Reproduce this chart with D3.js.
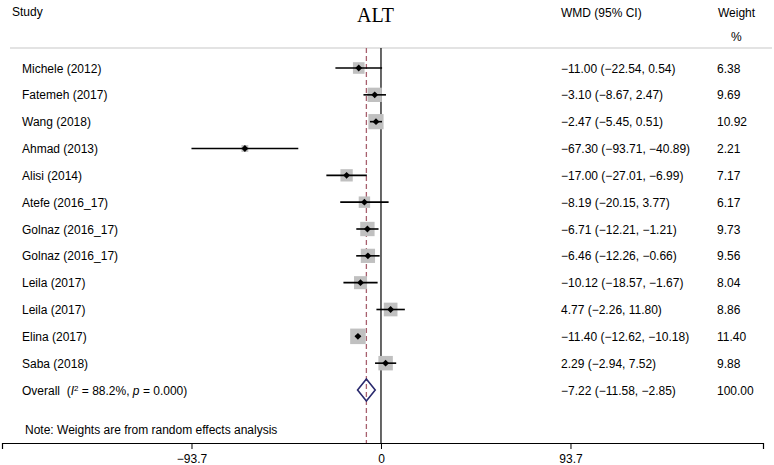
<!DOCTYPE html>
<html><head><meta charset="utf-8">
<script src="https://cdn.jsdelivr.net/npm/d3@7"></script>
<style>body{margin:0;background:#fff}svg{display:block;font-family:"Liberation Sans",Arial,Helvetica,sans-serif}</style>
</head><body><div id="chart"></div>
<script>
const studies = ["Michele (2012)","Fatemeh (2017)","Wang (2018)","Ahmad (2013)","Alisi (2014)","Atefe (2016_17)","Golnaz (2016_17)","Golnaz (2016_17)","Leila (2017)","Leila (2017)","Elina (2017)","Saba (2018)"];
const wmd   = [-11.00,-3.10,-2.47,-67.30,-17.00,-8.19,-6.71,-6.46,-10.12,4.77,-11.40,2.29];
const lower = [-22.54,-8.67,-5.45,-93.71,-27.01,-20.15,-12.21,-12.26,-18.57,-2.26,-12.62,-2.94];
const upper = [0.54,2.47,0.51,-40.89,-6.99,3.77,-1.21,-0.66,-1.67,11.80,-10.18,7.52];
const weights = [6.38,9.69,10.92,2.21,7.17,6.17,9.73,9.56,8.04,8.86,11.40,9.88];
const overall = {est:-7.22, lo:-11.58, hi:-2.85, weight:100.00};
const tickValues = [-93.7, 0, 93.7];

const W=774,H=465;
const svg=d3.select("#chart").append("svg").attr("width",W).attr("height",H);
const x=d3.scaleLinear().domain([-187.4,188.9]).range([2,763]);
const y=d3.scaleLinear().domain([0,12]).range([68,390]);
const fmt=d3.format(".2f");
const m=v=>fmt(v);
const topY=48, axisY=443, fs=12;

svg.append("text").attr("x",12).attr("y",16).attr("font-size",fs).text("Study");
svg.append("text").attr("x",357).attr("y",22).attr("font-size",20).attr("font-family","'Liberation Serif','Times New Roman',serif").text("ALT");
svg.append("text").attr("x",561).attr("y",17).attr("font-size",fs).text("WMD (95% CI)");
svg.append("text").attr("x",718).attr("y",17).attr("font-size",fs).text("Weight");
svg.append("text").attr("x",731).attr("y",41).attr("font-size",fs).text("%");
svg.append("line").attr("x1",10).attr("x2",772).attr("y1",topY).attr("y2",topY).attr("stroke","#c8c8c8").attr("stroke-width",1.2);

svg.append("line").attr("x1",x(0)).attr("x2",x(0)).attr("y1",topY).attr("y2",axisY).attr("stroke","#000").attr("stroke-width",1.2);
svg.append("line").attr("x1",x(overall.est)).attr("x2",x(overall.est)).attr("y1",topY).attr("y2",axisY).attr("stroke","#a8606e").attr("stroke-width",1.3).attr("stroke-dasharray","5,3");

const side=w=>4.6*Math.sqrt(w);
const g=svg.append("g");
studies.forEach((s,i)=>{
  const cy=y(i);
  g.append("rect").attr("x",x(wmd[i])-side(weights[i])/2).attr("y",cy-side(weights[i])/2).attr("width",side(weights[i])).attr("height",side(weights[i])).attr("fill","#c0c0c0");
  g.append("line").attr("x1",x(lower[i])).attr("x2",x(upper[i])).attr("y1",cy).attr("y2",cy).attr("stroke","#000").attr("stroke-width",1.6);
  g.append("path").attr("d",d3.symbol(d3.symbolDiamond2,30)()).attr("transform",`translate(${x(wmd[i])},${cy})`).attr("fill","#000");
  svg.append("text").attr("x",22).attr("y",cy+4.5).attr("font-size",fs).text(s);
  svg.append("text").attr("x",561).attr("y",cy+4.5).attr("font-size",fs).text(`${m(wmd[i])} (${m(lower[i])}, ${m(upper[i])})`);
  svg.append("text").attr("x",717).attr("y",cy+4.5).attr("font-size",fs).text(fmt(weights[i]));
});

const oy=y(12);
svg.append("path").attr("d",`M${x(overall.lo)},${oy}L${x(overall.est)},${oy-11}L${x(overall.hi)},${oy}L${x(overall.est)},${oy+11}Z`).attr("fill","none").attr("stroke","#2a2a6e").attr("stroke-width",1.6);
const ot=svg.append("text").attr("x",22).attr("y",oy+4.5).attr("font-size",fs);
ot.append("tspan").text("Overall\u00a0\u00a0(");
ot.append("tspan").attr("font-style","italic").text("I");
ot.append("tspan").attr("font-size",8).attr("dy",-4).text("2");
ot.append("tspan").attr("dy",4).text(" = 88.2%, ");
ot.append("tspan").attr("font-style","italic").text("p");
ot.append("tspan").text(" = 0.000)");
svg.append("text").attr("x",561).attr("y",oy+4.5).attr("font-size",fs).text(`${m(overall.est)} (${m(overall.lo)}, ${m(overall.hi)})`);
svg.append("text").attr("x",717).attr("y",oy+4.5).attr("font-size",fs).text(fmt(overall.weight));

svg.append("text").attr("x",25).attr("y",434).attr("font-size",fs).text("Note: Weights are from random effects analysis");

const axis=d3.axisBottom(x).tickValues(tickValues).tickSizeOuter(0).tickSize(6).tickPadding(5)
  .tickFormat(d=>d===0?"0":d3.format(".1f")(d));
const ag=svg.append("g").attr("transform",`translate(0,${axisY})`).call(axis);
ag.select(".domain").attr("stroke","#000").attr("stroke-width",1.2);
ag.selectAll(".tick line").attr("stroke","#000");
ag.selectAll("text").attr("font-size",fs).attr("fill","#000").attr("font-family","'Liberation Sans',Arial,sans-serif");
</script></body></html>
